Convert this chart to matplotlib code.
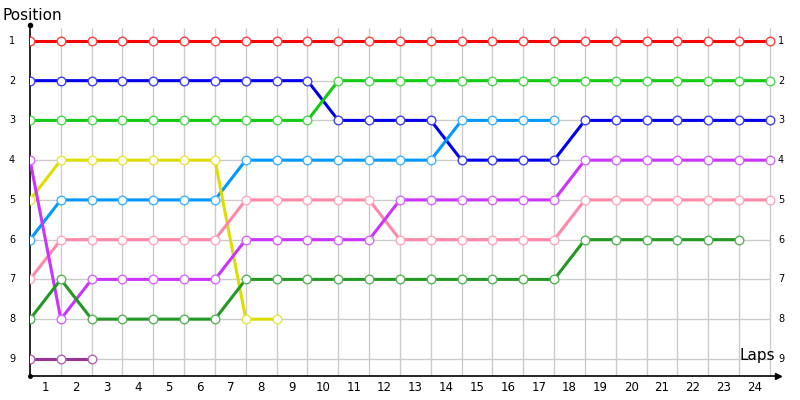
import matplotlib
matplotlib.use("Agg")
import matplotlib.pyplot as plt
import numpy as np
from matplotlib.colors import to_rgb

laps = list(range(0, 25))
tick_labels = [str(i) for i in range(1, 25)]
positions = list(range(1, 10))

series = [
    ("red",        "#ff0000", [1]*25),
    ("blue",       "#0000ee", [2]*10 + [3]*4 + [4]*4 + [3]*7),
    ("green",      "#11cc11", [3]*10 + [2]*15),
    ("lightblue",  "#0099ff", [6] + [5]*6 + [4]*7 + [3]*4),
    ("yellow",     "#dddd00", [5] + [4]*6 + [8, 8]),
    ("pink",       "#ff88aa", [7] + [6]*6 + [5]*5 + [6]*6 + [5]*7),
    ("magenta",    "#cc33ff", [4, 8] + [7]*5 + [6]*5 + [5]*6 + [4]*7),
    ("darkgreen",  "#229922", [8, 7] + [8]*5 + [7]*11 + [6]*6),
    ("darkpurple", "#993399", [9, 9, 9]),
]

fig = plt.figure(figsize=(8, 4), dpi=100)
ax = fig.add_axes([30/800, 1 - 376/400, 750/800, (376 - 25)/400])
xmax = 750 / 30.83
ax.set_xlim(0, xmax)
ax.set_ylim(9.43, 0.6)

# grid
ax.hlines(positions, 0, 24, color="#cccccc", lw=1, zorder=1)
ax.vlines(laps[1:], 9.43, 0.68, color="#cccccc", lw=1, zorder=1)

def lighten(c, f=0.25):
    r, g, b = to_rgb(c)
    return (r + (1 - r) * f, g + (1 - g) * f, b + (1 - b) * f)

for name, col, vals in series:
    xs = laps[:len(vals)]
    ax.plot(xs, vals, color=col, lw=2.2, zorder=3, solid_capstyle="round")
    ax.plot(xs, vals, ls="none", marker="o", ms=6.2, mfc="white",
            mec=lighten(col), mew=1.0, zorder=4)

for s in ["top", "right"]:
    ax.spines[s].set_visible(False)
ax.spines["left"].set_linewidth(1.2)
ax.spines["bottom"].set_linewidth(1.2)
ax.set_xticks([])
ax.set_yticks([])

# y labels left & right
for p in positions:
    ax.text(-18/30.83, p, str(p), ha="center", va="center", fontsize=7)
    ax.text(24 + 8/30.83, p, str(p), ha="left", va="center", fontsize=7)
# x labels
for i, lab in enumerate(tick_labels):
    ax.text(i + 0.5, 9.43 + 11/39.75, lab, ha="center", va="center", fontsize=8.5)

# axis decorations
ax.plot([0], [0.6], marker="o", ms=3, color="black", clip_on=False, zorder=5)
ax.plot([0], [9.43], marker="o", ms=2.5, color="black", clip_on=False, zorder=5)
ax.plot([xmax - 0.05], [9.43], marker=">", ms=5, color="black", clip_on=False, zorder=5)

fig.text(3/800, 1 - 15/400, "Position", ha="left", va="center", fontsize=11)
ax.text((775 - 30)/30.83, 9.43 - 20/39.75, "Laps", ha="right", va="center", fontsize=11)

fig.savefig("out.png", dpi=100)
